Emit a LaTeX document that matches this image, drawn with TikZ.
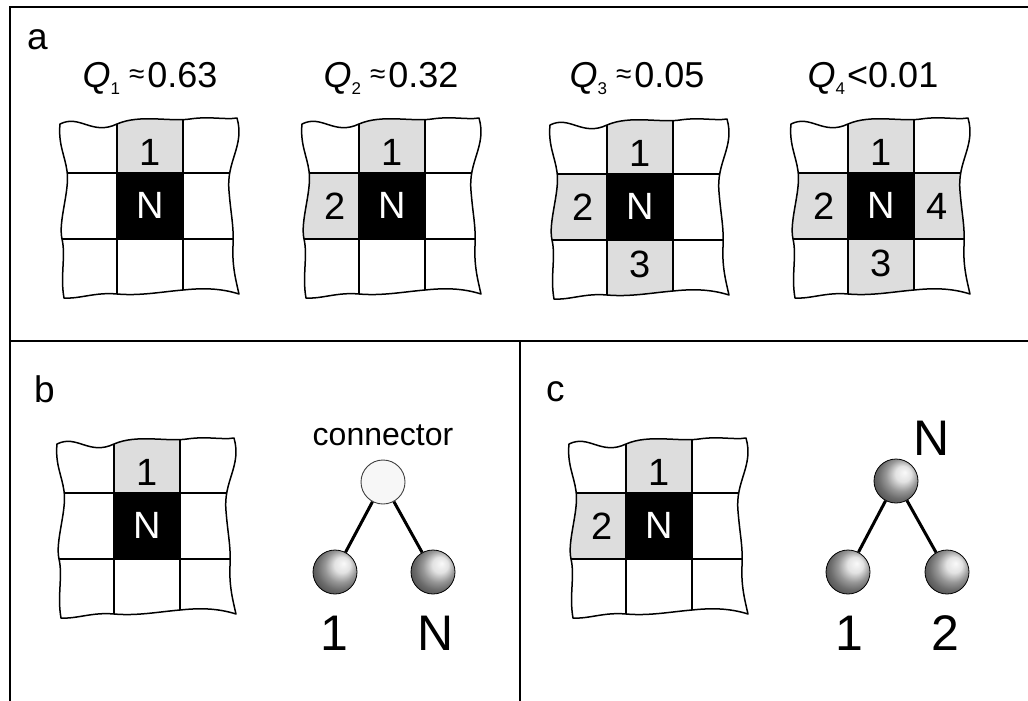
\documentclass[tikz,border=0pt]{standalone}
\usepackage{fontspec}
\setmainfont{Liberation Sans}
\tikzset{
  framel/.style={line width=2pt},
  gridline/.style={line width=2pt},
  outl/.style={line width=1.5pt, line join=round},
  graycell/.style={fill={rgb,255:red,221;green,221;blue,221}},
  celltxt/.style={font=\fontsize{38}{38}\selectfont, inner sep=0pt},
  titletxt/.style={font=\fontsize{36}{36}\selectfont, inner sep=0pt, anchor=base},
  paneltxt/.style={font=\fontsize{37}{37}\selectfont, inner sep=0pt, anchor=base west},
  conntxt/.style={font=\fontsize{32}{32}\selectfont, inner sep=0pt, anchor=base},
  bigtxt/.style={font=\fontsize{50}{50}\selectfont, inner sep=0pt, anchor=base},
  ballnode/.style={circle, minimum size=44pt, inner sep=0pt, draw=black, line width=0.8pt, ball color=gray!30, shading angle=-90},
  connball/.style={circle, minimum size=44pt, inner sep=0pt, draw=gray!50!black, line width=0.9pt, fill=gray!6},
  treeedge/.style={line width=3pt}
}
\newcommand\gcTop{\fill[graycell] (-33,-150) rectangle (33,-33);}
\newcommand\gcLeft{\fill[graycell] (-150,-33) rectangle (-33,33);}
\newcommand\gcBot{\fill[graycell] (-33,33) rectangle (33,150);}
\newcommand\gcRight{\fill[graycell] (33,-33) rectangle (150,33);}
\newcommand\lbTop[1]{\node[celltxt] (#1-1) at (0,-54) {1};}
\newcommand\lbLeft[1]{\node[celltxt] (#1-2) at (-57,0) {2};}
\newcommand\lbBot[1]{\node[celltxt] (#1-3) at (0,57) {3};}
\newcommand\lbRight[1]{\node[celltxt] (#1-4) at (56,0) {4};}
\newcommand\wgrid[5]{%
\begin{scope}[shift={(#1,#2)}]
\begin{scope}
\clip (-90,-82) .. controls (-70,-92) and (-58,-70) .. (-33,-82) .. controls (-10,-92) and (20,-84) .. (40,-87) .. controls (60,-90) and (75,-86) .. (87,-88)
 .. controls (95,-60) and (76,-45) .. (79,-15) .. controls (81,10) and (84,20) .. (83,40) .. controls (82,60) and (86,75) .. (89,88)
 .. controls (70,82) and (52,82) .. (33,84) .. controls (10,86) and (-10,90) .. (-33,88) .. controls (-55,86) and (-70,93) .. (-86,92)
 .. controls (-90,70) and (-84,50) .. (-88,33) .. controls (-92,15) and (-80,-15) .. (-83,-35) .. controls (-85,-50) and (-92,-62) .. (-90,-82) -- cycle;
#4
\fill[black] (-33,-33) rectangle (33,33);
\draw[gridline] (-33,-150) -- (-33,150) (33,-150) -- (33,150) (-150,-33) -- (150,-33) (-150,33) -- (150,33);
\end{scope}
\draw[outl] (-90,-82) .. controls (-70,-92) and (-58,-70) .. (-33,-82) .. controls (-10,-92) and (20,-84) .. (40,-87) .. controls (60,-90) and (75,-86) .. (87,-88)
 .. controls (95,-60) and (76,-45) .. (79,-15) .. controls (81,10) and (84,20) .. (83,40) .. controls (82,60) and (86,75) .. (89,88)
 .. controls (70,82) and (52,82) .. (33,84) .. controls (10,86) and (-10,90) .. (-33,88) .. controls (-55,86) and (-70,93) .. (-86,92)
 .. controls (-90,70) and (-84,50) .. (-88,33) .. controls (-92,15) and (-80,-15) .. (-83,-35) .. controls (-85,-50) and (-92,-62) .. (-90,-82) -- cycle;
\node[celltxt, text=white] (#3-N) at (0,-1) {N};
#5
\end{scope}}
\newcommand\qtitle[3]{\textit{Q}\raisebox{-7pt}{\fontsize{17}{17}\selectfont #1}#2#3}
\newcommand\approxsym{\hspace{9pt}\raisebox{5pt}{\fontsize{28}{28}\selectfont ≈}\hspace{3pt}}
\begin{document}
\begin{tikzpicture}[x=1pt,y=-1pt]
\useasboundingbox (0,0) rectangle (1028,701);
% frame
\draw[framel] (10,701) -- (10,7) -- (1028,7);
\draw[framel] (10,341) -- (1028,341);
\draw[framel] (520,341) -- (520,701);
% panel labels
\node[paneltxt] (la) at (27,50) {a};
\node[paneltxt] (lb) at (34,402) {b};
\node[paneltxt] (lc) at (546,401) {c};
% titles
\node[titletxt] (q1) at (150,88) {\qtitle{1}{\approxsym}{0.63}};
\node[titletxt] (q2) at (391,88) {\qtitle{2}{\approxsym}{0.32}};
\node[titletxt] (q3) at (637,88) {\qtitle{3}{\approxsym}{0.05}};
\node[titletxt] (q4) at (873,88) {\qtitle{4}{\hspace{2pt}}{<0.01}};
% grids panel a
\wgrid{150}{206}{ga1}{\gcTop}{\lbTop{ga1}}
\wgrid{392}{206}{ga2}{\gcTop\gcLeft}{\lbTop{ga2}\lbLeft{ga2}}
\wgrid{640}{207}{ga3}{\gcTop\gcLeft\gcBot}{\lbTop{ga3}\lbLeft{ga3}\lbBot{ga3}}
\wgrid{881}{206}{ga4}{\gcTop\gcLeft\gcBot\gcRight}{\lbTop{ga4}\lbLeft{ga4}\lbBot{ga4}\lbRight{ga4}}
% panel b
\wgrid{147}{526}{gb}{\gcTop}{\lbTop{gb}}
\node[connball] (bt) at (383,482) {};
\node[ballnode] (bl) at (335,572) {};
\node[ballnode] (br) at (433,572) {};
\draw[treeedge] (bt) -- (bl);
\draw[treeedge] (bt) -- (br);
\node[conntxt] (bconn) at (383,445) {connector};
\node[bigtxt] (bl-lbl) at (334,650) {1};
\node[bigtxt] (br-lbl) at (436,650) {N};
% panel c
\wgrid{659}{526}{gc}{\gcTop\gcLeft}{\lbTop{gc}\lbLeft{gc}}
\node[ballnode] (ct) at (896,481) {};
\node[ballnode] (cl) at (848,572) {};
\node[ballnode] (cr) at (947,572) {};
\draw[treeedge] (ct) -- (cl);
\draw[treeedge] (ct) -- (cr);
\node[bigtxt] (ct-lbl) at (932,455) {N};
\node[bigtxt] (cl-lbl) at (849,650) {1};
\node[bigtxt] (cr-lbl) at (945,650) {2};
\end{tikzpicture}
\end{document}
